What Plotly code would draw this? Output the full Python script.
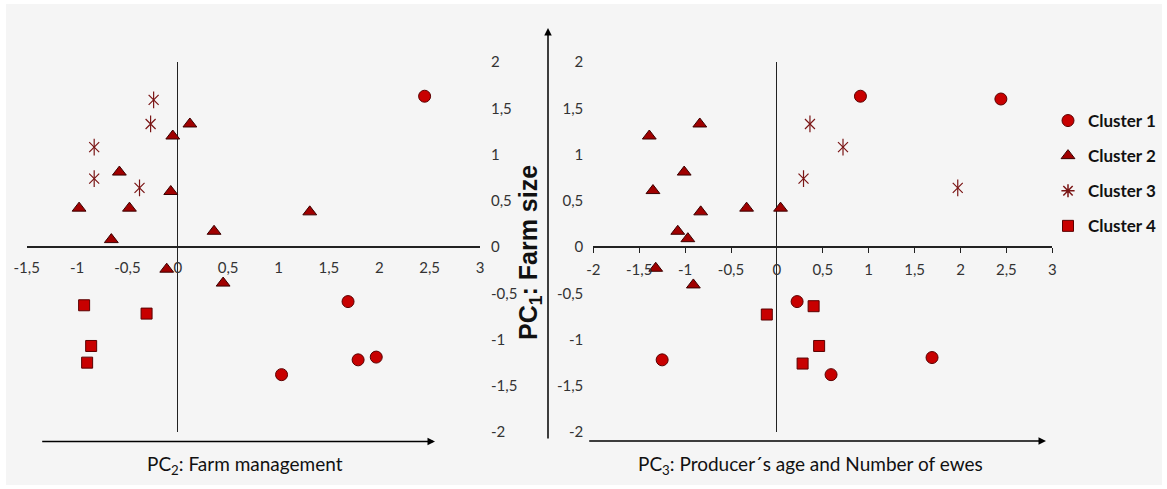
import plotly.graph_objects as go

# ---------------- data ----------------
# Left panel: PC2 (x) vs PC1 (y)
c1_pc2 = [2.45, 1.69, 1.79, 1.97, 1.03]
c1_pc1_l = [1.63, -0.59, -1.22, -1.19, -1.38]
c2_pc2 = [0.12, -0.05, -0.58, -0.07, -0.98, -0.48, -0.66, 0.36, -0.11, 0.45, 1.31]
c2_pc1_l = [1.33, 1.20, 0.81, 0.60, 0.42, 0.42, 0.08, 0.17, -0.24, -0.39, 0.38]
c3_pc2 = [-0.24, -0.27, -0.83, -0.83, -0.38]
c3_pc1_l = [1.59, 1.33, 1.08, 0.74, 0.64]
c4_pc2 = [-0.93, -0.31, -0.86, -0.90]
c4_pc1_l = [-0.63, -0.72, -1.07, -1.25]

# Right panel: PC3 (x) vs PC1 (y)
c1_pc3 = [0.91, 2.44, 0.22, -1.25, 0.59, 1.69]
c1_pc1_r = [1.63, 1.60, -0.59, -1.22, -1.38, -1.195]
c2_pc3 = [-0.84, -1.39, -1.01, -1.35, -0.83, -0.33, 0.04, -1.08, -0.97, -1.32, -0.91]
c2_pc1_r = [1.33, 1.20, 0.81, 0.61, 0.38, 0.42, 0.42, 0.17, 0.09, -0.23, -0.41]
c3_pc3 = [0.36, 0.72, 0.29, 1.97]
c3_pc1_r = [1.33, 1.08, 0.74, 0.64]
c4_pc3 = [-0.11, 0.40, 0.46, 0.28]
c4_pc1_r = [-0.73, -0.64, -1.07, -1.26]

cluster_names = ["Cluster 1", "Cluster 2", "Cluster 3", "Cluster 4"]

x_left_ticks = [-1.5, -1, -0.5, 0, 0.5, 1, 1.5, 2, 2.5, 3]
x_left_text = ["-1,5", "-1", "-0,5", "0", "0,5", "1", "1,5", "2", "2,5", "3"]
x_right_ticks = [-2, -1.5, -1, -0.5, 0, 0.5, 1, 1.5, 2, 2.5, 3]
x_right_text = ["-2", "-1,5", "-1", "-0,5", "0", "0,5", "1", "1,5", "2", "2,5", "3"]
y_ticks = [-2, -1.5, -1, -0.5, 0, 0.5, 1, 1.5, 2]
y_text = ["-2", "-1,5", "-1", "-0,5", "0", "0,5", "1", "1,5", "2"]

title_left = "PC<sub>2</sub>: Farm management"
title_right = "PC<sub>3</sub>: Producer\u00b4s age and Number of ewes"
title_y = "PC<sub>1</sub>: Farm size"

# ---------------- layout geometry ----------------
W, H = 1167, 489
def fx(p):
    return p / W
def fy(p):
    return 1 - p / H

y_dom = [fy(432), fy(62)]
left_dom = [fx(26.7), fx(480)]
right_dom = [fx(593.3), fx(1052.3)]
zero_pos = fy(247)

RED = "#c80000"
EDGE = "#5a0000"
TRI = "#a00000"
AST = "#7a1515"

FONT = "Lato, 'Open Sans', sans-serif"

fig = go.Figure()

def add_cluster(xs_l, ys_l, xs_r, ys_r, name, symbol, size, fill, edge, show):
    for xs, ys, xa, ya, leg in [(xs_l, ys_l, "x", "y", show), (xs_r, ys_r, "x2", "y2", False)]:
        fig.add_trace(go.Scatter(
            x=xs, y=ys, xaxis=xa, yaxis=ya, mode="markers", name=name,
            legendgroup=name, showlegend=leg,
            marker=dict(symbol=symbol, size=size, color=fill,
                        line=dict(color=edge, width=1)),
            hoverinfo="skip"))

add_cluster(c1_pc2, c1_pc1_l, c1_pc3, c1_pc1_r, cluster_names[0], "circle", 12, RED, EDGE, True)
add_cluster(c2_pc2, c2_pc1_l, c2_pc3, c2_pc1_r, cluster_names[1], "triangle-up", 12, TRI, "#3a0000", True)

# Cluster 3: asterisk built from an X plus a vertical stroke
for xs, ys, xa, ya in [(c3_pc2, c3_pc1_l, "x", "y"), (c3_pc3, c3_pc1_r, "x2", "y2")]:
    for sym, sz in [("x-thin-open", 10), ("line-ns-open", 12)]:
        fig.add_trace(go.Scatter(
            x=xs, y=ys, xaxis=xa, yaxis=ya, mode="markers", name=cluster_names[2],
            legendgroup=cluster_names[2], showlegend=False,
            marker=dict(symbol=sym, size=sz, color=AST, line=dict(color=AST, width=1.2)),
            hoverinfo="skip"))
fig.add_trace(go.Scatter(
    x=[None], y=[None], xaxis="x", yaxis="y", mode="markers", name=cluster_names[2],
    legendgroup=cluster_names[2], showlegend=True,
    marker=dict(symbol="asterisk-open", size=11, color=AST, line=dict(color=AST, width=1.5))))

add_cluster(c4_pc2, c4_pc1_l, c4_pc3, c4_pc1_r, cluster_names[3], "square", 11, RED, EDGE, True)

tick_font = dict(family=FONT, size=15, color="#333333")

common_x = dict(showgrid=False, zeroline=True, zerolinecolor="#222222", zerolinewidth=1.2,
                anchor="free", position=zero_pos, tickmode="array", tickfont=tick_font,
                fixedrange=True)
common_y = dict(showgrid=False, range=[-2, 2], domain=y_dom, tickvals=y_ticks, ticktext=y_text,
                tickmode="array", tickfont=tick_font, anchor="free", showline=False,
                zerolinecolor="#222222", zerolinewidth=1.5, fixedrange=True)

fig.update_layout(
    width=W, height=H,
    margin=dict(l=0, r=0, t=0, b=0, autoexpand=False),
    paper_bgcolor="white",
    plot_bgcolor="rgba(0,0,0,0)",
    xaxis=dict(common_x, domain=left_dom, range=[-1.5, 3], tickvals=x_left_ticks,
               ticktext=x_left_text, showline=False, ticks="", ticklabelstandoff=10),
    yaxis=dict(common_y, side="right", position=left_dom[1], zeroline=True,
               ticks="", ticklabelstandoff=10),
    xaxis2=dict(common_x, domain=right_dom, range=[-2, 3], tickvals=x_right_ticks,
                ticktext=x_right_text, showline=True, linecolor="#222222", linewidth=1.5,
                ticks="outside", ticklen=5, tickcolor="#222222", ticklabelstandoff=4),
    yaxis2=dict(common_y, side="left", position=right_dom[0], zeroline=False,
                ticks="", ticklabelstandoff=10),
    legend=dict(x=fx(1048), y=fy(103), xanchor="left", yanchor="top",
                bgcolor="rgba(0,0,0,0)", tracegroupgap=10, itemwidth=30,
                font=dict(family=FONT, size=17, color="#111111", weight="bold")),
    showlegend=True,
)

# grey backdrop panel
fig.add_shape(type="rect", xref="paper", yref="paper", x0=fx(6), x1=fx(1162), y0=fy(485), y1=fy(4),
              fillcolor="#f5f5f5", line=dict(width=0), layer="below")

arrow = dict(xref="paper", yref="paper", text="", showarrow=True, arrowhead=2,
             arrowsize=1, arrowwidth=1.5, arrowcolor="#000000", standoff=0, startstandoff=0)
# left horizontal arrow
fig.add_annotation(arrow, x=fx(435), y=fy(441.5), ax=40.7 - 435, ay=0)
# right horizontal arrow
fig.add_annotation(arrow, x=fx(1046), y=fy(441), ax=587.7 - 1046, ay=0)
# vertical arrow
fig.add_annotation(arrow, x=fx(548), y=fy(28), ax=0, ay=440 - 28)

title_font = dict(family=FONT, size=19, color="#111111")
fig.add_annotation(xref="paper", yref="paper", x=fx(245), y=fy(465), text=title_left,
                   showarrow=False, font=title_font, xanchor="center", yanchor="middle")
fig.add_annotation(xref="paper", yref="paper", x=fx(810), y=fy(465), text=title_right,
                   showarrow=False, font=title_font, xanchor="center", yanchor="middle")
fig.add_annotation(xref="paper", yref="paper", x=fx(530), y=fy(253), text=title_y,
                   showarrow=False, textangle=-90, xanchor="center", yanchor="middle",
                   font=dict(family="Liberation Sans, Arial, sans-serif", size=25,
                             color="#111111", weight="bold"))

fig.write_html("out.html", config={"displayModeBar": False},
               post_script="document.body.style.margin='0';")
